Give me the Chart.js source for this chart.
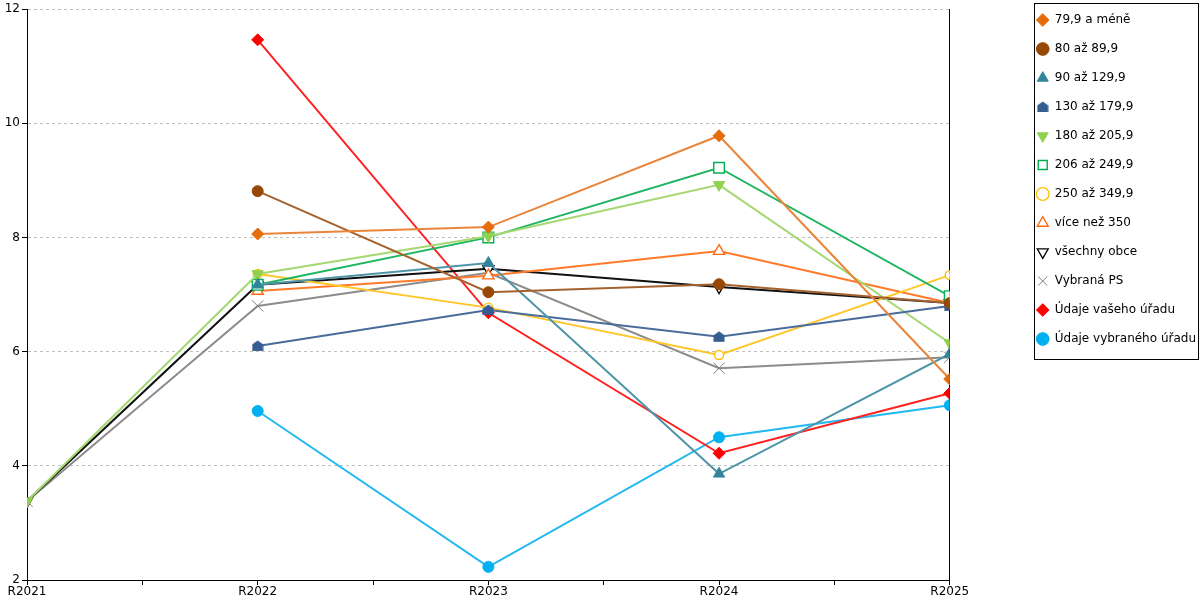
<!DOCTYPE html>
<html>
<head>
<meta charset="utf-8">
<script src="https://cdn.jsdelivr.net/npm/chart.js@4.4.1/dist/chart.umd.min.js"></script>
<style>
    html, body { margin: 0; padding: 0; background: #ffffff; }
    #wrap { width: 1200px; height: 600px; }
</style>
</head>
<body>
<div id="wrap"><canvas id="trendChart"></canvas></div>
<script>
const years = ['R2021', 'R2022', 'R2023', 'R2024', 'R2025'];
const seriesNames = [
    '79,9 a méně', '80 až 89,9', '90 až 129,9', '130 až 179,9',
    '180 až 205,9', '206 až 249,9', '250 až 349,9', 'více než 350',
    'všechny obce', 'Vybraná PS', 'Údaje vašeho úřadu', 'Údaje vybraného úřadu'
];
const yTicks = [2, 4, 6, 8, 10, 12];

const upTo79 = [null, 8.06, 8.18, 9.78, 5.52];
const from80 = [null, 8.81, 7.04, 7.18, 6.85];
const from90 = [null, 7.17, 7.55, 3.86, 5.96];
const from130 = [null, 6.10, 6.73, 6.26, 6.80];
const from180 = [3.38, 7.36, 8.02, 8.92, 6.15];
const from206 = [null, 7.17, 8.00, 9.22, 6.97];
const from250 = [null, 7.36, 6.77, 5.94, 7.34];
const over350 = [null, 7.06, 7.33, 7.76, 6.85];
const allMunicipalities = [3.38, 7.17, 7.45, 7.13, 6.85];
const selectedPS = [3.38, 6.80, 7.38, 5.71, 5.90];
const yourOffice = [null, 11.46, 6.68, 4.22, 5.27];
const selectedOffice = [null, 4.96, 2.23, 4.50, 5.06];

// house shaped marker for "130 až 179,9"
function houseMarker(color) {
    const c = document.createElement('canvas');
    c.width = 12;
    c.height = 12;
    const g = c.getContext('2d');
    g.fillStyle = color;
    g.beginPath();
    g.moveTo(6, 0.5);
    g.lineTo(11.5, 4.5);
    g.lineTo(11.5, 11);
    g.lineTo(0.5, 11);
    g.lineTo(0.5, 4.5);
    g.closePath();
    g.fill();
    return c;
}

function series(label, values, line, marker) {
    return {
        label: label,
        data: values.map((v, i) => ({ x: i, y: v })),
        borderColor: line,
        backgroundColor: line,
        borderWidth: 2,
        tension: 0,
        fill: false,
        pointStyle: marker.style,
        pointRotation: marker.rotation || 0,
        pointRadius: marker.radius,
        pointHoverRadius: marker.radius,
        pointBackgroundColor: marker.fill,
        pointBorderColor: marker.stroke,
        pointBorderWidth: marker.width || 1
    };
}

const datasets = [
    series(seriesNames[0], upTo79, '#e9853a', { style: 'rectRot', radius: 6, fill: '#e46c0a', stroke: '#e46c0a' }),
    series(seriesNames[1], from80, '#a5622e', { style: 'circle', radius: 5.5, fill: '#974806', stroke: '#974806' }),
    series(seriesNames[2], from90, '#4e95a8', { style: 'triangle', radius: 6.5, fill: '#31849b', stroke: '#31849b' }),
    series(seriesNames[3], from130, '#4a6c9c', { style: houseMarker('#355d91'), radius: 6, fill: '#355d91', stroke: '#355d91' }),
    series(seriesNames[4], from180, '#a5d872', { style: 'triangle', rotation: 180, radius: 6.5, fill: '#92d050', stroke: '#92d050' }),
    series(seriesNames[5], from206, '#1db560', { style: 'rect', radius: 7.5, fill: '#ffffff', stroke: '#00b050', width: 1.4 }),
    series(seriesNames[6], from250, '#ffc62a', { style: 'circle', radius: 4.5, fill: '#ffffff', stroke: '#ffc000', width: 1.4 }),
    series(seriesNames[7], over350, '#ff7a2a', { style: 'triangle', radius: 6.5, fill: '#ffffff', stroke: '#ff6a13', width: 1.4 }),
    series(seriesNames[8], allMunicipalities, '#111111', { style: 'triangle', rotation: 180, radius: 6.5, fill: '#ffffff', stroke: '#000000', width: 1.3 }),
    series(seriesNames[9], selectedPS, '#8c8c8c', { style: 'crossRot', radius: 8, fill: '#808080', stroke: '#808080', width: 1 }),
    series(seriesNames[10], yourOffice, '#ff2020', { style: 'rectRot', radius: 6, fill: '#ff0000', stroke: '#ff0000' }),
    series(seriesNames[11], selectedOffice, '#22b8f0', { style: 'circle', radius: 5.5, fill: '#00b0f0', stroke: '#00b0f0' })
];

// frame around the legend
const legendFrame = {
    id: 'legendFrame',
    afterDraw(chart) {
        const boxes = chart.legend && chart.legend.legendHitBoxes;
        if (!boxes || !boxes.length) return;
        const ctx = chart.ctx;
        const left = Math.min(...boxes.map(b => b.left)) - 3;
        const top = boxes[0].top - 11;
        const right = Math.min(chart.width - 2, Math.max(...boxes.map(b => b.left + b.width)) + 6);
        const last = boxes[boxes.length - 1];
        const bottom = last.top + last.height + 14;
        ctx.save();
        ctx.strokeStyle = '#000000';
        ctx.lineWidth = 1;
        ctx.strokeRect(Math.round(left) + 0.5, Math.round(top) + 0.5, Math.round(right - left), Math.round(bottom - top));
        ctx.restore();
    }
};

const font = { family: 'DejaVu Sans', size: 12 };

new Chart(document.getElementById('trendChart'), {
    type: 'line',
    data: { datasets: datasets },
    plugins: [legendFrame],
    options: {
        responsive: true,
        maintainAspectRatio: false,
        animation: false,
        layout: { padding: { top: -3, right: -6, bottom: 0, left: 0 } },
        plugins: {
            legend: {
                position: 'right',
                align: 'start',
                labels: {
                    usePointStyle: true,
                    boxWidth: 12,
                    boxHeight: 9,
                    padding: 17,
                    color: '#000000',
                    font: font
                }
            },
            tooltip: { enabled: false }
        },
        scales: {
            x: {
                type: 'linear',
                min: 0,
                max: years.length - 1,
                grid: {
                    drawOnChartArea: false,
                    color: '#000000',
                    tickLength: 5
                },
                border: { color: '#000000', width: 1 },
                ticks: {
                    stepSize: 0.5,
                    autoSkip: false,
                    maxRotation: 0,
                    padding: 0,
                    color: '#000000',
                    font: font,
                    callback: function (value) {
                        return Number.isInteger(value) ? years[value] : '';
                    }
                },
                afterFit: function (scale) {
                    scale.height = 20;
                }
            },
            y: {
                min: yTicks[0],
                max: yTicks[yTicks.length - 1],
                afterBuildTicks: function (scale) {
                    scale.ticks = yTicks.map(v => ({ value: v }));
                },
                grid: {
                    color: '#c0c0c0',
                    tickColor: '#000000',
                    tickLength: 5,
                    tickBorderDash: []
                },
                border: { color: '#000000', width: 1, dash: [3, 3] },
                ticks: {
                    padding: 2,
                    color: '#000000',
                    font: font
                },
                afterFit: function (scale) {
                    scale.width = 27;
                    scale.paddingTop = 9;
                }
            },
            y2: {
                position: 'right',
                min: yTicks[0],
                max: yTicks[yTicks.length - 1],
                grid: { drawOnChartArea: false, drawTicks: false },
                border: { color: '#000000', width: 1 },
                ticks: { display: false },
                afterFit: function (scale) {
                    scale.width = 70;
                }
            }
        }
    }
});
</script>
</body>
</html>
